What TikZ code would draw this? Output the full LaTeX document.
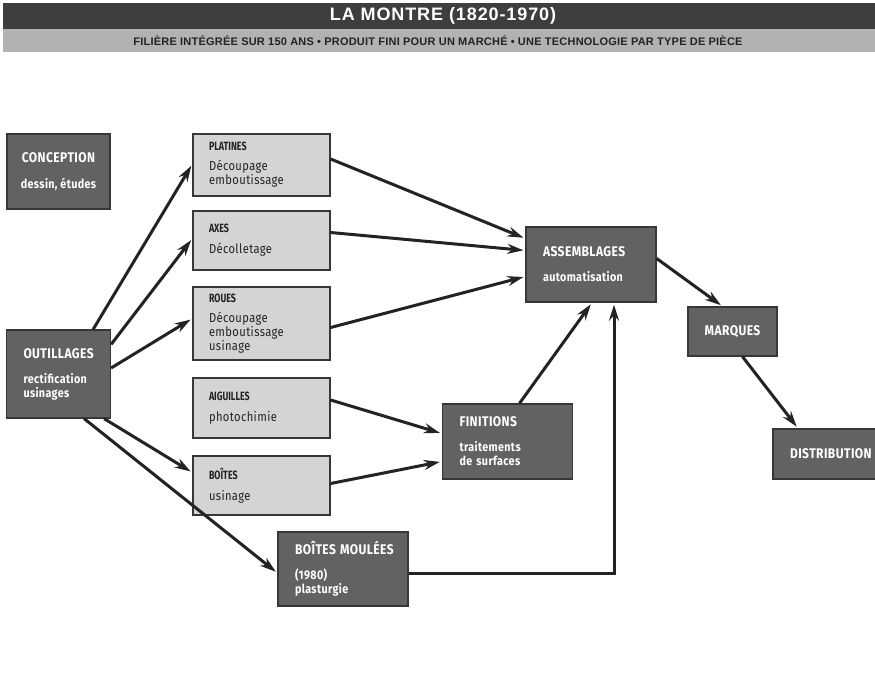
\documentclass[tikz,border=0pt]{standalone}
\usepackage{fontspec}
\setmainfont{Fira Sans}
\newfontfamily\boxfont[FakeStretch=0.86,LetterSpace=3]{Fira Sans}
\newfontfamily\tagfont[FakeStretch=0.74]{Fira Sans}
\newfontfamily\headfont[LetterSpace=5]{Liberation Sans}
\newfontfamily\subfont[LetterSpace=2]{Liberation Sans}
\usetikzlibrary{positioning, arrows.meta}

\definecolor{barDark}{RGB}{62,62,62}
\definecolor{barLight}{RGB}{178,178,178}
\definecolor{darkFill}{RGB}{98,98,98}
\definecolor{lightFill}{RGB}{212,212,212}
\definecolor{boxLine}{RGB}{55,55,55}
\definecolor{inkGray}{RGB}{35,35,35}

\newcommand{\boxhead}[1]{{\fontsize{14}{16}\selectfont\mbox{#1}}}
\newcommand{\boxtag}[1]{{\tagfont\bfseries\fontsize{12}{14}\selectfont #1}}

\tikzset{
  darkbox/.style={draw=boxLine, fill=darkFill, text=white, line width=1.3pt,
    inner ysep=0pt, inner xsep=17pt, align=left,
    font=\boxfont\bfseries\fontsize{12.5}{14}\selectfont},
  lightbox/.style={draw=boxLine, fill=lightFill, text=inkGray, line width=1.3pt,
    inner ysep=0pt, inner xsep=16pt, align=left, minimum width=137pt,
    text width=105pt, font=\boxfont\fontsize{13}{14}\selectfont},
  arr/.style={draw=inkGray, line width=3pt, shorten >=2pt,
    -{Stealth[length=16pt,width=10pt]}}
}

\begin{document}
\begin{tikzpicture}[x=1pt, y=-1pt]
  \useasboundingbox[fill=white] (0,0) rectangle (875,693);
  % header
  \fill[barDark] (3,3) rectangle (875,29);
  \fill[barLight] (3,29) rectangle (875,52);
  \node[text=white, font=\headfont\bfseries\fontsize{18}{20}\selectfont] (title) at (443,16) {LA MONTRE (1820-1970)};
  \node[text=inkGray, font=\subfont\bfseries\fontsize{11}{12}\selectfont] (subtitle) at (438,41)
    {FILIÈRE INTÉGRÉE SUR 150 ANS • PRODUIT FINI POUR UN MARCHÉ • UNE TECHNOLOGIE PAR TYPE DE PIÈCE};

  % left column
  \node[darkbox, align=center, inner xsep=0pt, minimum width=103pt, minimum height=75pt] (concep) at (58.5,171.5)
    {\boxhead{CONCEPTION}\\[12pt]dessin, études};
  \node[darkbox, text width=70pt, minimum height=88pt] (outil) at (58.5,374)
    {\boxhead{OUTILLAGES}\\[11pt]rectification\\usinages};

  % parts
  \node[lightbox, minimum height=62pt] (plat) at (261.5,165)
    {\boxtag{PLATINES}\\[6pt]Découpage\\emboutissage};
  \node[lightbox, minimum height=59pt] (axes) at (261.5,240.5)
    {\boxtag{AXES}\\[7pt]Décolletage};
  \node[lightbox, minimum height=73pt] (roues) at (261.5,323.5)
    {\boxtag{ROUES}\\[6pt]Découpage\\emboutissage\\usinage};
  \node[lightbox, minimum height=60pt] (aig) at (261.5,408)
    {\boxtag{AIGUILLES}\\[7pt]photochimie};
  \node[lightbox, minimum height=59pt] (boit) at (261.5,485.5)
    {\boxtag{BOÎTES}\\[7pt]usinage};

  % processes
  \node[darkbox, text width=96pt, minimum height=75pt] (finit) at (507.5,441.5)
    {\boxhead{FINITIONS}\\[11pt]traitements\\de surfaces};
  \node[darkbox, text width=96pt, minimum height=74pt] (moul) at (343,569)
    {\boxhead{BOÎTES MOULÉES}\\[11pt](1980)\\plasturgie};
  \node[darkbox, text width=96pt, minimum height=75pt] (assem) at (591,264.5)
    {\boxhead{ASSEMBLAGES}\\[11pt]automatisation};
  \node[darkbox, align=center, inner xsep=0pt, minimum width=89pt, minimum height=49pt] (marq) at (732.5,331.5)
    {\boxhead{MARQUES}};
  \node[darkbox, text width=72pt, minimum height=50pt] (distr) at (826,454)
    {\boxhead{DISTRIBUTION}};

  % connectors
  \draw[arr] ([xshift=-18pt]outil.north east) -- ([yshift=1pt]plat.west);
  \draw[arr] ([yshift=-15pt]outil.north east) -- ([yshift=2pt]axes.west);
  \draw[arr] ([yshift=6pt]outil.east) -- ([yshift=5pt]roues.west);
  \draw[arr] ([xshift=-7pt]outil.south east) -- ([yshift=13pt]boit.west);
  \draw[arr] ([xshift=-27pt]outil.south east) -- ([yshift=-4pt]moul.west);
  \draw[arr] ([yshift=6pt]plat.east) -- ([yshift=26pt]assem.west);
  \draw[arr] ([yshift=8pt]axes.east) -- ([yshift=14pt]assem.west);
  \draw[arr] ([yshift=-4pt]roues.east) -- ([yshift=-12pt]assem.west);
  \draw[arr] ([yshift=8pt]aig.east) -- ([yshift=8pt]finit.west);
  \draw[arr] ([yshift=2pt]boit.east) -- ([yshift=-20pt]finit.west);
  \draw[arr] ([xshift=12pt]finit.north) -- ([xshift=1pt]assem.south);
  \draw[arr] ([yshift=-4pt]moul.east) -| ([xshift=23pt]assem.south);
  \draw[arr] ([yshift=6pt]assem.east) -- ([xshift=-10pt]marq.north);
  \draw[arr] ([xshift=10pt]marq.south) -- ([xshift=-28pt]distr.north);
\end{tikzpicture}
\end{document}
